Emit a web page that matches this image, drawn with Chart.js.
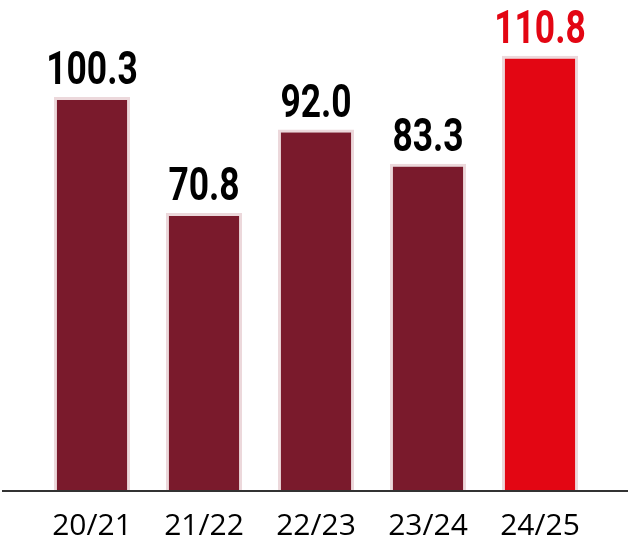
<!DOCTYPE html>
<html>
<head>
<meta charset="utf-8">
<script src="https://cdn.jsdelivr.net/npm/chart.js@4"></script>
<style>
  html, body { margin: 0; padding: 0; background: #fff; }
  #wrap { width: 630px; height: 540px; position: relative; }
</style>
</head>
<body>
<div id="wrap"><canvas id="seasonChart"></canvas></div>
<script>
var seasons = ['20/21', '21/22', '22/23', '23/24', '24/25'];
var revenue = [100.3, 70.8, 92.0, 83.3, 110.8];
var barColors = ['#7a1a2c', '#7a1a2c', '#7a1a2c', '#7a1a2c', '#e30613'];
var labelColors = ['#000000', '#000000', '#000000', '#000000', '#e30613'];

var baselinePlugin = {
    id: 'baseline',
    afterDatasetsDraw: function(chart) {
        var ctx = chart.ctx;
        var y = chart.scales.y.getPixelForValue(0);
        ctx.save();
        ctx.strokeStyle = '#333333';
        ctx.lineWidth = 2;
        ctx.beginPath();
        ctx.moveTo(2, y);
        ctx.lineTo(chart.width - 2, y);
        ctx.stroke();
        ctx.restore();
    }
};

// condensed bold value labels: Roboto squeezed horizontally
var valueLabelPlugin = {
    id: 'valueLabels',
    afterDatasetsDraw: function(chart) {
        var ctx = chart.ctx;
        var meta = chart.getDatasetMeta(0);
        var squeeze = 0.77;
        meta.data.forEach(function(bar, i) {
            var text = revenue[i].toFixed(1);
            ctx.save();
            ctx.translate(bar.x, bar.y - 13);
            ctx.scale(squeeze, 1);
            ctx.font = 'bold 46px Roboto, sans-serif';
            ctx.textAlign = 'center';
            ctx.textBaseline = 'alphabetic';
            ctx.lineJoin = 'round';
            ctx.lineWidth = 4;
            ctx.strokeStyle = '#ffffff';
            ctx.strokeText(text, 0, 0);
            ctx.fillStyle = labelColors[i];
            ctx.fillText(text, 0, 0);
            ctx.restore();
        });
    }
};

window.onload = function() {
    var ctx = document.getElementById('seasonChart').getContext('2d');
    window.seasonChart = new Chart(ctx, {
        type: 'bar',
        data: {
            labels: seasons,
            datasets: [{
                data: revenue,
                backgroundColor: barColors,
                borderColor: '#ecd8db',
                borderWidth: 3,
                borderSkipped: 'bottom',
                barPercentage: 1,
                categoryPercentage: 0.68
            }]
        },
        options: {
            responsive: true,
            maintainAspectRatio: false,
            animation: false,
            layout: {
                padding: { left: 36, right: 34, top: 0, bottom: -21 }
            },
            plugins: {
                legend: { display: false },
                title: { display: false },
                tooltip: { enabled: false }
            },
            scales: {
                x: {
                    grid: { display: false, drawTicks: false },
                    border: { display: false },
                    ticks: {
                        color: '#000000',
                        padding: 17,
                        font: { family: '"Open Sans", sans-serif', size: 30 }
                    }
                },
                y: {
                    display: false,
                    min: 0,
                    max: 125
                }
            }
        },
        plugins: [baselinePlugin, valueLabelPlugin]
    });
};
</script>
</body>
</html>
